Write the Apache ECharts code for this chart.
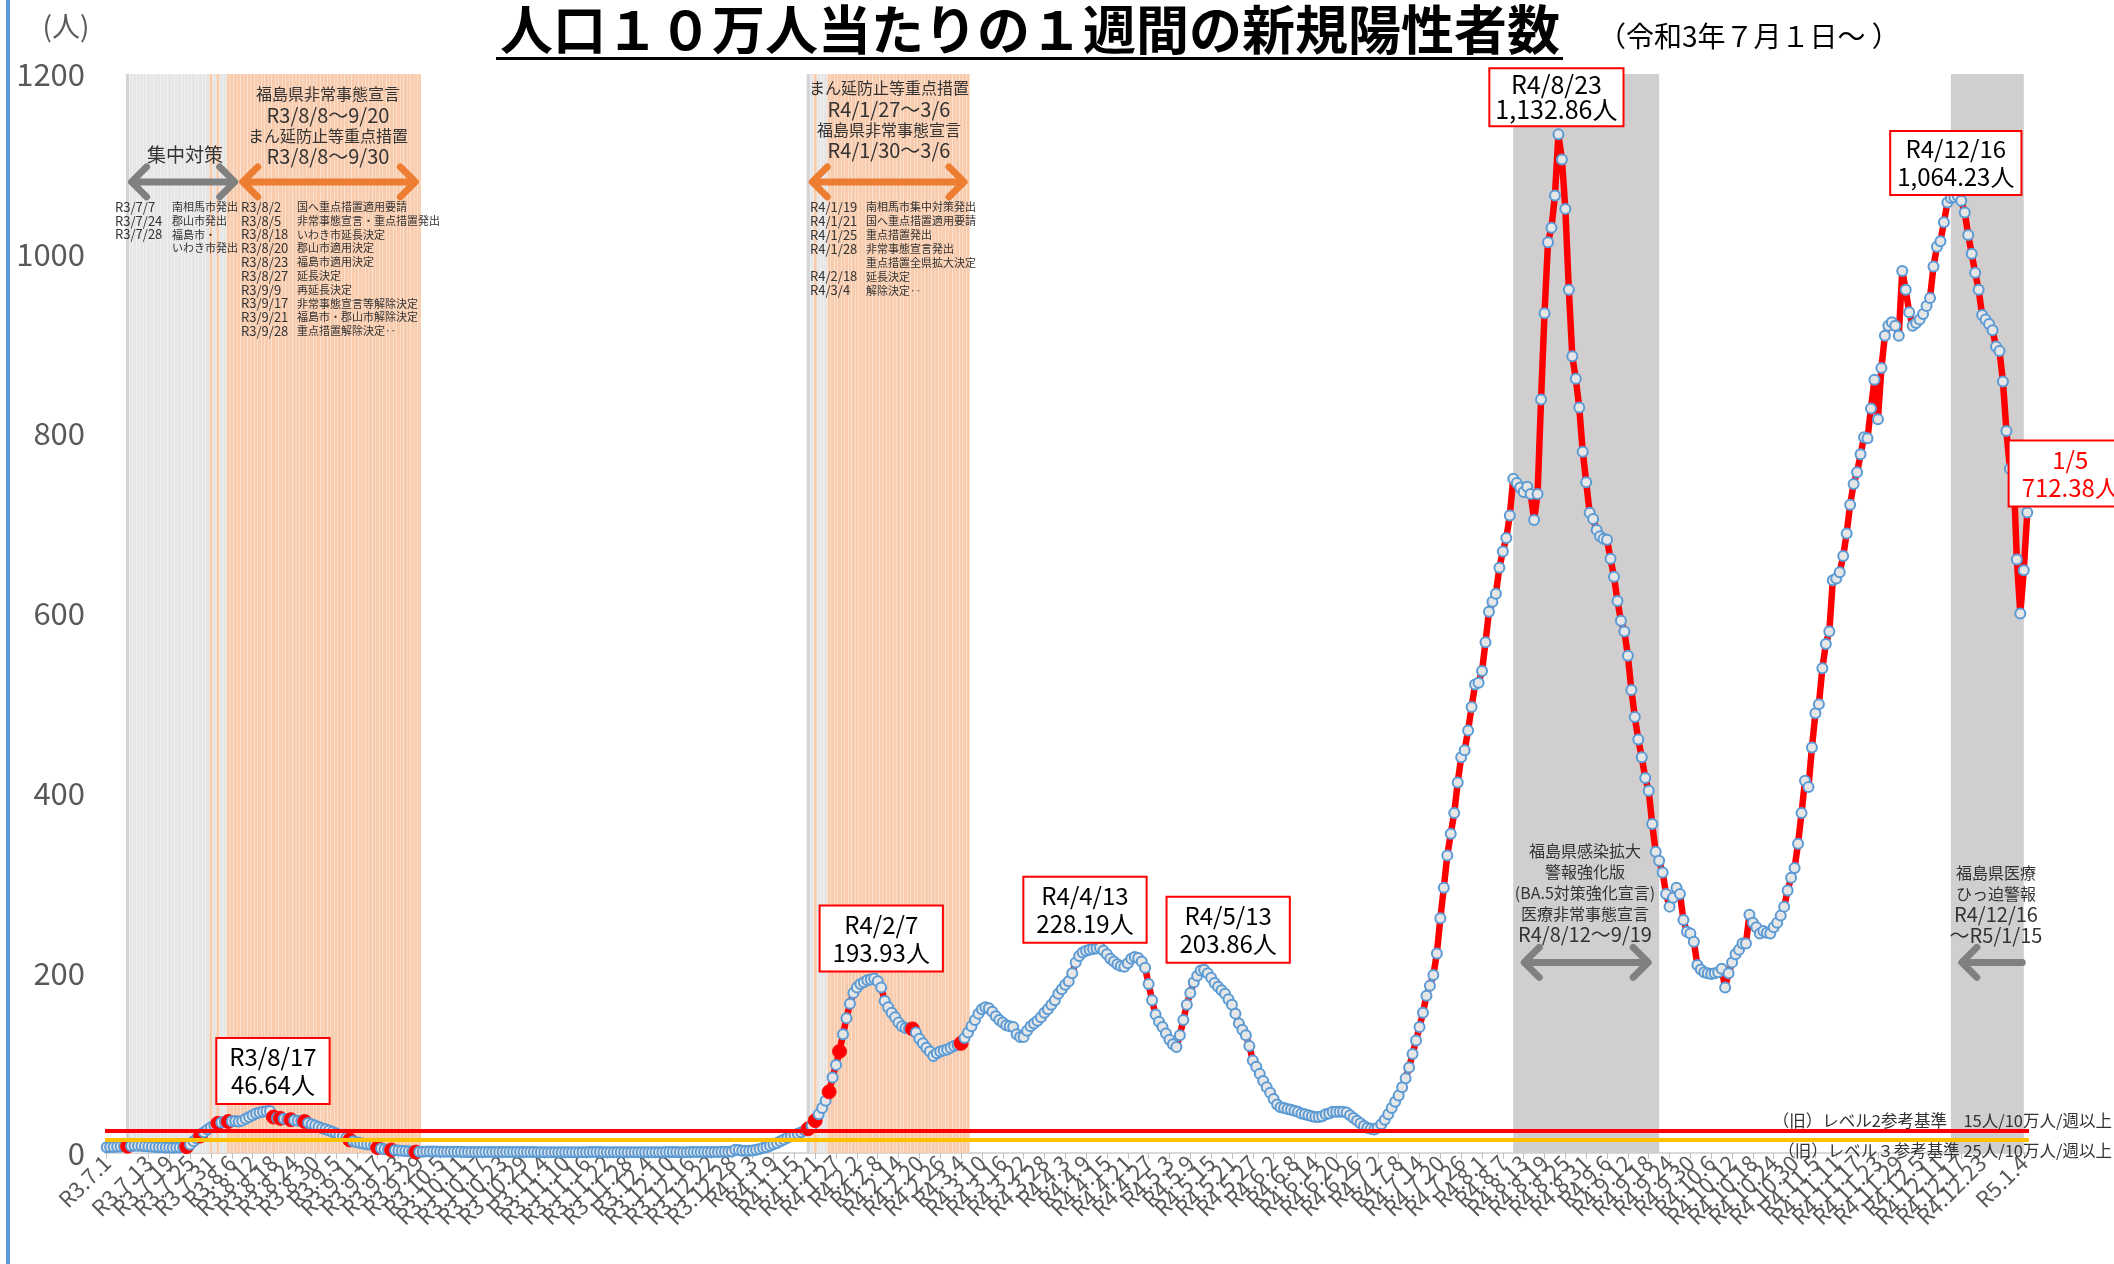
<!DOCTYPE html>
<html><head><meta charset="utf-8">
<script src="https://cdn.jsdelivr.net/npm/echarts/dist/echarts.min.js"></script>
<style>html,body{margin:0;padding:0;background:#fff;}#c{width:2114px;height:1264px;}</style>
</head><body><div id="c"></div>
<script>
// ---------- data ----------
const startDate = '2021-07-01';
const v2021_07 = [6.5,6.6,6.8,7.0,7.2,7.4,7.5,7.8,8.0,8.2,8.0,7.6,7.2,6.9,6.6,6.4,6.3,6.2,6.0,5.9,6.0,6.2,6.5,7.0,9.5,13,16,19,23,26,28.5];
const v2021_08 = [31,33,34,34.5,35,35.2,35.5,35.0,36,38,40,42,44,45,45.8,46.3,46.64,40,39,38.5,38,37.5,37,36.5,36,35.5,35,33.5,32,30.5,29];
const v2021_09 = [27.5,26.5,25,23.5,22,20,18.5,17,14.5,13,12,11,10.2,9.8,9.5,9,6,5,4.3,3.8,3.3,3,2.7,2.5,2.3,2.0,1.7,1.0,1.3,1.5];
const v2021_10 = [1.8,1.7,1.6,1.6,1.5,1.5,1.4,1.4,1.3,1.3,1.3,1.2,1.2,1.2,1.1,1.1,1.1,1.0,1.0,1.0,1.0,1.0,1.1,1.1,1.1,1.2,1.2,1.1,1.1,1.0,1.0];
const v2021_11 = [1.0,0.9,0.9,0.9,0.8,0.8,0.8,0.8,0.8,0.8,0.8,0.8,0.9,0.9,0.9,0.9,1.0,1.0,1.0,1.0,0.9,0.9,0.9,0.8,0.8,0.8,0.8,0.8,0.8,0.8];
const v2021_12 = [0.8,0.8,0.8,0.9,0.9,0.9,0.9,0.9,1.0,1.0,1.0,1.0,0.9,0.9,0.9,1.0,1.0,1.0,1.1,1.1,1.1,1.2,1.2,1.2,1.3,1.4,1.5,1.6,3.6,3.2,2.6];
const v2022_01 = [2.5,2.6,2.8,3.5,4.5,5.5,6.5,8,9.6,11,13,15,17,18.5,20,21.5,23,25,27,30,36,43,50,58,68,84,98,113,132,150,166];
const v2022_02 = [178,184,188,190,192,193,193.93,191,184,169,162,156,151,145,141,139,138.5,138,134,127,122,117,113,108,111,113,114,115];
const v2022_03 = [117,119,120,122,128,134,141,148,155,160,162,161,157,152,148,145,142,141,140,132,129,129,136,141,144,147,151,156,160,165,170];
const v2022_04 = [177,182,187,191,200,212,219,223,225,226,227,227.5,228.19,225,221,216,213,210,208,207,211,216,218,217,213,206,188,170,154,146];
const v2022_05 = [140,133,126,121,118,131,148,165,178,190,197,203,203.86,200,195,189,185,181,177,171,165,155,144,137,131,119,103,96,88,80,73];
const v2022_06 = [67,60,54,51,50,49,48,47,46,44,43,42,41,40,40,41,43,44,46,46,46,46,45,42,39,36,33,30,28,27];
const v2022_07 = [26,28,32,37,43,50,57,64,73,83,95,110,125,140,156,175,186,198,222,261,295,331,355,378,412,440,448,470,496,521,523];
const v2022_08 = [536,568,602,613,622,651,669,684,709,750,745,740,735,741,733,704,733,838,934,1013,1029,1065,1132.86,1105,1050,960,886,861,829,780,746];
const v2022_09 = [712,705,693,686,683,682,661,641,614,592,580,553,515,485,460,440,417,403,366,335,325,312,288,274,284,295,288,259,246,244];
const v2022_10 = [235,209,204,201,200,199,200,201,205,184,200,212,221,226,233,233,265,256,251,244,247,245,244,251,256,264,274,292,306,317,344];
const v2022_11 = [378,414,407,451,489,499,539,566,580,637,639,646,664,689,721,744,757,777,796,795,828,860,816,873,909,920,924,920,909,981];
const v2022_12 = [960,935,920,923,927,933,942,951,986,1008,1014,1035,1057,1062,1063,1064.23,1059,1046,1021,1000,979,960,932,927,922,915,897,892,858,803,761];
const v2023_01 = [762,660,600,648,712.38];

const eventDays = ['R3.7.7','R3.7.24','R3.7.28','R3.8.2','R3.8.5','R3.8.18','R3.8.20','R3.8.23','R3.8.27','R3.9.9','R3.9.17','R3.9.21','R3.9.28','R4.1.19','R4.1.21','R4.1.25','R4.1.28','R4.2.18','R4.3.4'];
const lightGreyRanges = [['R3.7.7','R3.7.30'],['R3.8.1','R3.8.1'],['R3.8.3','R3.8.4'],['R4.1.19','R4.1.20'],['R4.1.22','R4.1.24']];
const orangeRanges = [['R3.7.31','R3.7.31'],['R3.8.2','R3.8.2'],['R3.8.5','R3.9.29'],['R4.1.21','R4.1.21'],['R4.1.25','R4.3.6']];
const bandEdgeDays = ['R3.7.7','R4.1.19'];
const darkGreyRanges = [['R4.8.12','R4.9.19'],['R4.12.16','R5.1.5']];
const levelValues = [25, 15];
const yTicks = {min:0, max:1200, interval:200};
const labelEvery = 6;
const callouts = [
  {day:'R3.8.17', value:46.64, text:'R3/8/17\n46.64人'},
  {day:'R4.2.7', value:193.93, text:'R4/2/7\n193.93人'},
  {day:'R4.4.13', value:228.19, text:'R4/4/13\n228.19人'},
  {day:'R4.5.13', value:203.86, text:'R4/5/13\n203.86人'},
  {day:'R4.8.23', value:1132.86, text:'R4/8/23\n1,132.86人'},
  {day:'R4.12.16', value:1064.23, text:'R4/12/16\n1,064.23人'},
  {day:'R5.1.5', value:712.38, text:'1/5\n712.38人'}
];

// ---------- build ----------
const values = [].concat(v2021_07,v2021_08,v2021_09,v2021_10,v2021_11,v2021_12,
  v2022_01,v2022_02,v2022_03,v2022_04,v2022_05,v2022_06,v2022_07,v2022_08,v2022_09,v2022_10,v2022_11,v2022_12,v2023_01);
const categories = [];
(function(){
  const p = startDate.split('-').map(Number);
  const d = new Date(Date.UTC(p[0], p[1]-1, p[2]));
  for (let i = 0; i < values.length; i++) {
    categories.push('R' + (d.getUTCFullYear()-2018) + '.' + (d.getUTCMonth()+1) + '.' + d.getUTCDate());
    d.setUTCDate(d.getUTCDate()+1);
  }
})();
const idx = c => categories.indexOf(c);
const FONT = "'Noto Sans CJK JP', 'Noto Sans', sans-serif";

const bandData = categories.map(() => '-');
function fillBand(ranges, color){
  ranges.forEach(r => { for (let i = idx(r[0]); i <= idx(r[1]); i++) bandData[i] = {value: yTicks.max, itemStyle:{color}}; });
}
fillBand(lightGreyRanges, '#e7e6e6');
fillBand(orangeRanges, '#f8cbad');
bandEdgeDays.forEach(c => { bandData[idx(c)] = {value: yTicks.max, itemStyle:{color:'#d3d3d3'}}; });

const lineData = values.map((v,i) => eventDays.indexOf(categories[i]) >= 0
  ? {value:v, symbolSize:14, itemStyle:{color:'#ff0000', borderColor:'#ff1010', borderWidth:1}}
  : v);

const offsets = [[3,-40],[7,-40],[-15,-38],[24,-40],[-2,-37],[-2,-33],[43,-39]];
const pads = [[4,12],[4,12],[4,12],[4,12],[3,5],[3,6],[4,12]];
const calloutData = callouts.map((c,i) => ({
  coord:[c.day, c.value], symbol:'circle', symbolSize:1, itemStyle:{color:'rgba(0,0,0,0)'},
  label:{show:true, position:'inside', formatter:c.text, offset:offsets[i],
    fontSize: i===4 ? 25 : 24, lineHeight: i===4 ? 25 : 28, fontFamily:FONT,
    color: i===6 ? '#ff0000' : '#000', backgroundColor:'#fff', borderColor:'#ff0000', borderWidth:2,
    padding: pads[i], align:'center', verticalAlign:'middle'}
}));

const chart = echarts.init(document.getElementById('c'));
chart.setOption({
  animation:false,
  backgroundColor:'#fff',
  textStyle:{fontFamily:FONT},
  grid:{left:105, right:85, top:74, bottom:111},
  xAxis:{type:'category', data:categories, boundaryGap:true,
    axisLine:{lineStyle:{color:'#d9d9d9', width:2}},
    axisTick:{show:true, interval:(i) => i % labelEvery === 0, alignWithLabel:true, length:6, lineStyle:{color:'#bfbfbf'}},
    axisLabel:{interval:(i) => i % labelEvery === 0, rotate:45, fontSize:22, color:'#595959', margin:6, fontFamily:FONT,
      showMinLabel:true, showMaxLabel:true, hideOverlap:false},
    splitLine:{show:false}},
  yAxis:{type:'value', min:yTicks.min, max:yTicks.max, interval:yTicks.interval,
    axisLine:{show:false}, axisTick:{show:false}, splitLine:{show:false},
    axisLabel:{fontSize:31, color:'#595959', margin:20, fontFamily:FONT, formatter: v => String(v)}},
  series:[
    {type:'bar', name:'bands', data:bandData, barCategoryGap:'10%', z:1, silent:true,
     markArea:{silent:true, itemStyle:{color:'#d0cece'}, data:darkGreyRanges.map(r => [{xAxis:r[0]},{xAxis:r[1]}])}},
    {type:'line', name:'levels', data:[], z:2, silent:true,
     markLine:{silent:true, symbol:['none','none'], label:{show:false},
       data:[{yAxis:levelValues[0], lineStyle:{color:'#ff0000', width:4, type:'solid'}},
             {yAxis:levelValues[1], lineStyle:{color:'#ffc000', width:4, type:'solid'}}]}},
    {type:'line', name:'weekly', data:lineData, z:3, symbol:'circle', symbolSize:10, showAllSymbol:true,
     lineStyle:{color:'#ff0000', width:6.5}, itemStyle:{color:'#e7e6e6', borderColor:'#5b9bd5', borderWidth:2},
     markPoint:{silent:true, data:calloutData}}
  ]
});

// ---------- annotations ----------
const G = [];
function T(x, y, text, o){ G.push({type:'text', x, y, z:100, silent:true,
  style:Object.assign({text, fill:'#333', fontFamily:FONT, fontSize:16, align:'center', verticalAlign:'middle'}, o||{})}); }
function block(x, y, lines, lh){
  const rich = {j:{fontSize:16, lineHeight:lh, fontFamily:FONT, fill:'#333'}, d:{fontSize:20, lineHeight:lh, fontFamily:FONT, fill:'#333'}};
  const text = lines.map(l => '{' + (/^[～(R]/.test(l) && !/^\(BA/.test(l) ? 'd' : 'j') + '|' + l + '}').join('\n');
  T(x, y, text, {rich, verticalAlign:'top'});
}
G.push({type:'rect', shape:{x:6,y:0,width:4,height:1264}, style:{fill:'#5b9bd5'}, z:100});
T(66, 26, '(人)', {fontSize:28, fill:'#595959'});
T(1030, 30, '人口１０万人当たりの１週間の新規陽性者数', {fontSize:53, fontWeight:'bold', fill:'#000'});
G.push({type:'rect', shape:{x:496,y:57,width:1067,height:3}, style:{fill:'#000'}, z:100});
T(1598, 36, '（令和3年７月１日～ ）', {fontSize:28, fill:'#000', align:'left'});
T(185, 155, '集中対策', {fontSize:19});
block(328, 84, ['福島県非常事態宣言','R3/8/8～9/20','まん延防止等重点措置','R3/8/8～9/30'], 20.7);
T(115, 200, 'R3/7/7\nR3/7/24\nR3/7/28', {fontSize:13, lineHeight:13.8, align:'left', verticalAlign:'top'});
T(172, 200, '南相馬市発出\n郡山市発出\n福島市・\nいわき市発出', {fontSize:11, lineHeight:13.8, align:'left', verticalAlign:'top'});
T(241, 200, 'R3/8/2\nR3/8/5\nR3/8/18\nR3/8/20\nR3/8/23\nR3/8/27\nR3/9/9\nR3/9/17\nR3/9/21\nR3/9/28', {fontSize:13, lineHeight:13.8, align:'left', verticalAlign:'top'});
T(297, 200, '国へ重点措置適用要請\n非常事態宣言・重点措置発出\nいわき市延長決定\n郡山市適用決定\n福島市適用決定\n延長決定\n再延長決定\n非常事態宣言等解除決定\n福島市・郡山市解除決定\n重点措置解除決定‥', {fontSize:11, lineHeight:13.8, align:'left', verticalAlign:'top'});
block(889, 78, ['まん延防止等重点措置','R4/1/27～3/6','福島県非常事態宣言','R4/1/30～3/6'], 20.8);
T(810, 200, 'R4/1/19\nR4/1/21\nR4/1/25\nR4/1/28\n\nR4/2/18\nR4/3/4', {fontSize:13, lineHeight:13.9, align:'left', verticalAlign:'top'});
T(866, 200, '南相馬市集中対策発出\n国へ重点措置適用要請\n重点措置発出\n非常事態宣言発出\n重点措置全県拡大決定\n延長決定\n解除決定‥', {fontSize:11, lineHeight:13.9, align:'left', verticalAlign:'top'});
block(1585, 841, ['福島県感染拡大','警報強化版','(BA.5対策強化宣言)','医療非常事態宣言','R4/8/12～9/19'], 20.7);
block(1996, 862, ['福島県医療','ひっ迫警報','R4/12/16','～R5/1/15'], 21);
T(2112, 1121, '（旧）レベル2参考基準　15人/10万人/週以上', {fontSize:16.5, align:'right'});
T(2112, 1151, '（旧）レベル３参考基準 25人/10万人/週以上', {fontSize:16.5, align:'right'});

const arrows = [
  {from:'R3.7.7', to:'R3.8.8', value:1080, color:'#808080', left:true, right:true},
  {from:'R3.8.8', to:'R3.9.29', value:1080, color:'#ed7d31', left:true, right:true},
  {from:'R4.1.19', to:'R4.3.6', value:1080, color:'#ed7d31', left:true, right:true},
  {from:'R4.8.12', to:'R4.9.19', value:212, color:'#808080', left:true, right:true},
  {from:'R4.12.16', to:'R5.1.5', value:212, color:'#808080', left:true, right:false}
];
arrows.forEach(a => {
  const p1 = chart.convertToPixel({gridIndex:0}, [idx(a.from), a.value]);
  const p2 = chart.convertToPixel({gridIndex:0}, [idx(a.to), a.value]);
  const x1 = p1[0]+2, x2 = p2[0]-2, y = p1[1];
  const st = {stroke:a.color, lineWidth:7, lineCap:'round', lineJoin:'round', fill:null};
  G.push({type:'line', z:90, shape:{x1:x1+3, y1:y, x2:x2-3, y2:y}, style:st});
  if (a.left) G.push({type:'polyline', z:90, shape:{points:[[x1+17,y-15],[x1+2,y],[x1+17,y+15]]}, style:st});
  if (a.right) G.push({type:'polyline', z:90, shape:{points:[[x2-17,y-15],[x2-2,y],[x2-17,y+15]]}, style:st});
});
chart.setOption({graphic:G});
</script>
</body></html>
